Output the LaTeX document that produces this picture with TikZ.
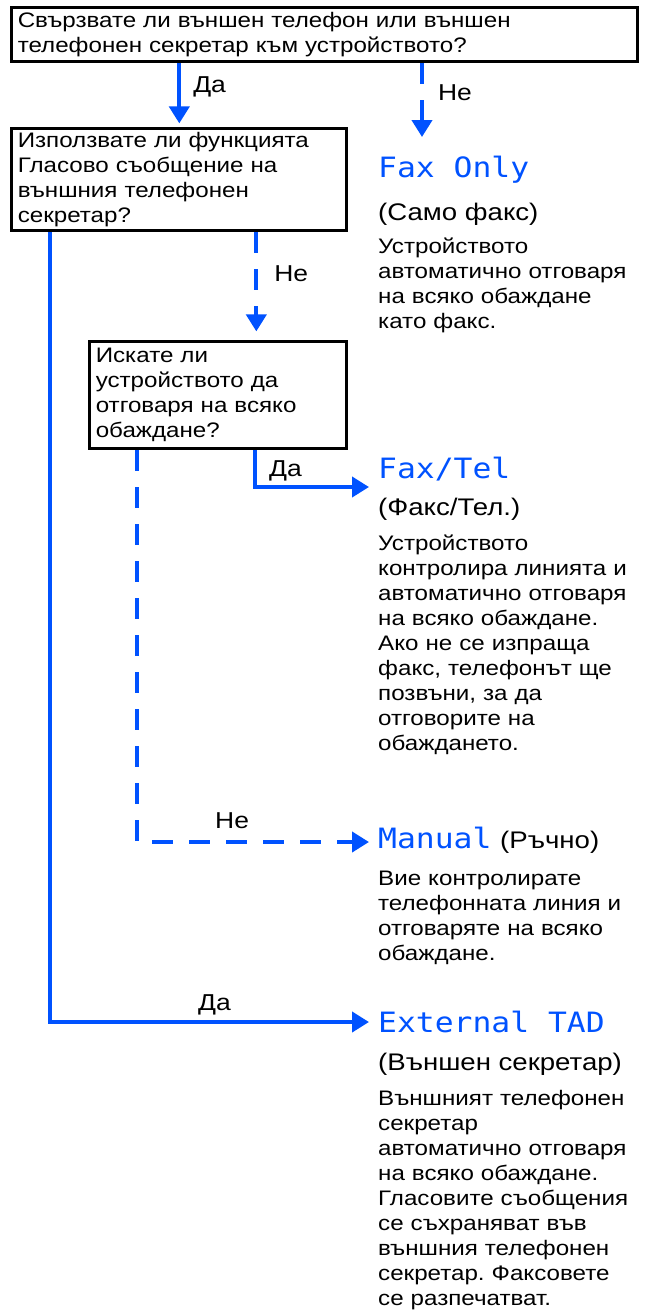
\documentclass[tikz,border=0pt]{standalone}
\usepackage{fontspec}
\setmainfont[FakeStretch=1.15]{Liberation Sans}
\newfontfamily\lcdfont[FakeStretch=1.12]{DejaVu Sans Mono}
\usetikzlibrary{arrows.meta,positioning,calc}
\definecolor{flowblue}{RGB}{0,82,255}
\frenchspacing
\newcommand{\bodyfont}{\fontsize{21}{25}\selectfont}
\newcommand{\subfont}{\fontsize{24}{28}\selectfont}
\newcommand{\lcdtitle}{\lcdfont\fontsize{28}{30}\selectfont}

\begin{document}
\begin{tikzpicture}[x=1pt, y=-1pt,
    font=\bodyfont,
    question/.style={draw, line width=2.8pt, inner xsep=6pt, inner ysep=0pt, align=left, anchor=north west},
    mode/.style={text=flowblue, font=\lcdtitle, inner sep=0pt, anchor=base west},
    note/.style={inner sep=0pt, anchor=base west, text width=267pt, align=left},
    answer/.style={inner sep=0pt, anchor=base west, font=\subfont},
    choice/.style={inner sep=0pt, anchor=base west, font=\fontsize{23}{26}\selectfont},
    yes/.style={draw=flowblue, line width=4pt, -{Triangle[length=17pt,width=20pt]}},
    no/.style={yes, dash pattern=on 21pt off 16pt}
]
\useasboundingbox (0,0) rectangle (645,1312);

% questions
\node[question, text width=614pt, minimum height=54pt] (q1) at (10.4,6.4) {Свързвате ли външен телефон или външен\\телефонен секретар към устройството?};
\node[question, text width=323pt, minimum height=102pt] (q2) at (10.4,127.4) {Използвате ли функцията\\Гласово съобщение на\\външния телефонен\\секретар?};
\node[question, text width=245pt, minimum height=107pt] (q3) at (88.4,340.4) {Искате ли\\устройството да\\отговаря на всяко\\обаждане?};

% receive modes
\node[mode] (fo) at (378,177) {Fax Only};
\node[answer] (fo-sub) at (378,220) {(Само факс)};
\node[note] (fo-txt) at (378,253) {Устройството\\автоматично отговаря\\на всяко обаждане\\като факс.};

\node[mode] (ft) at (378,478) {Fax/Tel};
\node[answer] (ft-sub) at (378,515) {(Факс/Тел.)};
\node[note] (ft-txt) at (378,550) {Устройството\\контролира линията и\\автоматично отговаря\\на всяко обаждане.\\Ако не се изпраща\\факс, телефонът ще\\позвъни, за да\\отговорите на\\обаждането.};

\node[mode] (mn) at (378,848) {Manual};
\node[answer] (mn-sub) at (500,848) {(Ръчно)};
\node[note] (mn-txt) at (378,885) {Вие контролирате\\телефонната линия и\\отговаряте на всяко\\обаждане.};

\node[mode] (tad) at (378,1032) {External TAD};
\node[answer] (tad-sub) at (378,1070) {(Външен секретар)};
\node[note] (tad-txt) at (378,1105) {Външният телефонен\\секретар\\автоматично отговаря\\на всяко обаждане.\\Гласовите съобщения\\се съхраняват във\\външния телефонен\\секретар. Факсовете\\се разпечатват.};

% arrow ends
\coordinate (fo-in) at (422,137);
\coordinate (ft-in) at (369,487);
\coordinate (mn-in) at (369,842);
\coordinate (tad-in) at (369,1022);

% connectors
\draw[yes] (q2.north |- q1.south) -- ([yshift=4pt]q2.north) node[choice, pos=0.4, right=12pt] (l1) {Да};
\draw[no] (q1.south -| fo-in) -- (fo-in) node[choice, pos=0.4, right=14pt] (l2) {Не};
\draw[no] ($(q2.south west)!0.728!(q2.south east)$) coordinate (q2-no) -- ([yshift=9pt]q2-no |- q3.north) node[choice, pos=0.42, right=16pt] (l3) {Не};
\draw[yes] ($(q3.south west)!0.642!(q3.south east)$) |- (ft-in);
\node[choice] (l4) at (269,476) {Да};
\draw[no] ($(q3.south west)!0.188!(q3.south east)$) |- (mn-in);
\node[choice] (l5) at (215,828) {Не};
\draw[yes] ($(q2.south west)!0.118!(q2.south east)$) |- (tad-in);
\node[choice] (l6) at (198,1010) {Да};
\end{tikzpicture}
\end{document}
